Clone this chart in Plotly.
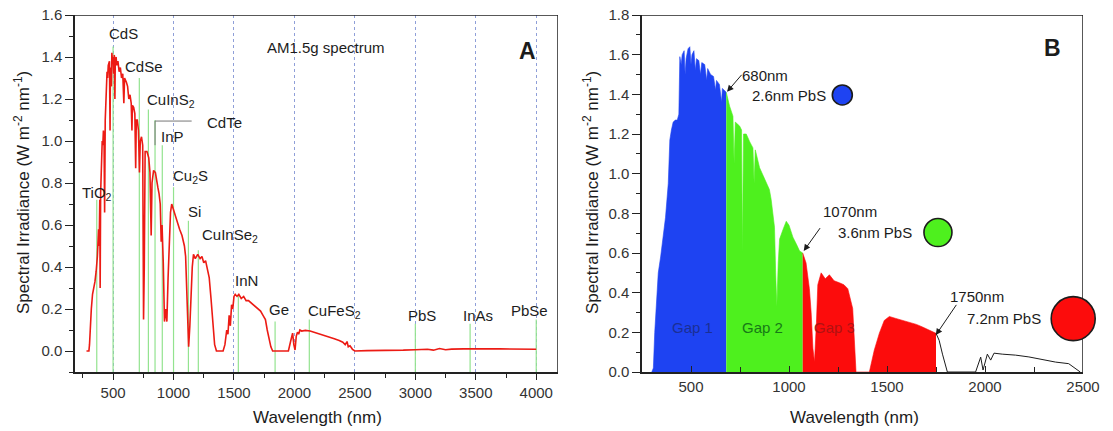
import plotly.graph_objects as go

# ---------------- Panel A : AM1.5g spectrum ----------------
wl_A = [280, 300, 305, 310, 320, 330, 340, 350, 360, 370, 380, 385, 390, 393, 397, 405, 410, 415,
        420, 425, 430, 435, 440, 445, 450, 455, 460, 470, 475, 478, 486, 490, 495, 500, 505, 510,
        515, 518, 525, 530, 540, 550, 560, 570, 580, 589, 595, 610, 620, 630, 640, 650, 656, 660,
        670, 680, 687, 692, 700, 710, 718, 725, 735, 745, 752, 758, 765, 780, 795, 805, 815, 822,
        835, 850, 860, 870, 880, 890, 898, 905, 915, 925, 935, 945, 955, 965, 975, 985, 995, 1010,
        1030, 1050, 1070, 1090, 1100, 1110, 1118, 1125, 1135, 1145, 1155, 1165, 1180, 1200, 1220,
        1235, 1250, 1265, 1280, 1295, 1310, 1325, 1340, 1355, 1410, 1425, 1440, 1450, 1460, 1470,
        1480, 1490, 1500, 1510, 1525, 1540, 1560, 1580, 1600, 1620, 1640, 1660, 1680, 1700, 1720,
        1740, 1760, 1775, 1790, 1805, 1820, 1950, 1970, 1985, 1995, 2005, 2015, 2025, 2035, 2045,
        2060, 2090, 2130, 2170, 2210, 2250, 2290, 2330, 2370, 2400, 2420, 2435, 2445, 2460, 2480,
        2500, 2600, 2700, 2800, 2900, 3000, 3100, 3150, 3200, 3250, 3300, 3400, 3500, 3600, 3700,
        3800, 3900, 4000]
irr_A = [0.0, 0.0, 0.03, 0.10, 0.20, 0.27, 0.30, 0.33, 0.38, 0.45, 0.58, 0.50, 0.72, 0.30, 0.75,
         0.95, 1.00, 0.98, 1.05, 1.02, 0.66, 1.10, 1.22, 1.28, 1.33, 1.30, 1.36, 1.38, 1.05, 1.35,
         1.26, 1.42, 1.38, 1.40, 1.32, 1.41, 1.20, 1.38, 1.40, 1.36, 1.38, 1.33, 1.35, 1.30, 1.32,
         1.18, 1.30, 1.28, 1.26, 1.20, 1.22, 1.18, 1.05, 1.17, 1.16, 1.13, 0.87, 1.10, 1.10, 1.05,
         0.85, 1.00, 1.02, 0.98, 0.15, 0.40, 0.95, 0.95, 0.92, 0.85, 0.55, 0.80, 0.86, 0.85, 0.80,
         0.78, 0.75, 0.70, 0.52, 0.60, 0.42, 0.14, 0.20, 0.14, 0.35, 0.55, 0.66, 0.70, 0.68, 0.65,
         0.61, 0.58, 0.55, 0.50, 0.45, 0.30, 0.10, 0.02, 0.12, 0.28, 0.40, 0.46, 0.44, 0.46, 0.44,
         0.45, 0.42, 0.43, 0.38, 0.35, 0.25, 0.12, 0.03, 0.0, 0.0, 0.03, 0.10, 0.08, 0.17, 0.12,
         0.22, 0.20, 0.26, 0.27, 0.26, 0.27, 0.25, 0.26, 0.24, 0.24, 0.23, 0.22, 0.21, 0.20, 0.19,
         0.17, 0.15, 0.10, 0.05, 0.02, 0.0, 0.0, 0.05, 0.085, 0.03, 0.005, 0.07, 0.09, 0.08, 0.10,
         0.095, 0.098, 0.095, 0.088, 0.082, 0.073, 0.066, 0.058, 0.050, 0.042, 0.030, 0.045, 0.02,
         0.025, 0.008, 0.0, 0.002, 0.002, 0.003, 0.004, 0.006, 0.008, 0.004, 0.012, 0.006, 0.009,
         0.010, 0.012, 0.011, 0.010, 0.010, 0.008, 0.008]

# band-gap markers (semiconductor, wavelength nm, line top)
semis = ["TiO<sub>2</sub>", "CdS", "CdSe", "CuInS<sub>2</sub>", "CdTe", "InP", "Cu<sub>2</sub>S",
         "Si", "CuInSe<sub>2</sub>", "InN", "Ge", "CuFeS<sub>2</sub>", "PbS", "InAs", "PbSe"]
gap_wl = [365, 500, 717, 792, 847, 907, 1000, 1123, 1205, 1536, 1840, 2123, 3000, 3453, 4000]
gap_top = [0.72, 1.45, 1.30, 1.15, 1.10, 0.98, 0.78, 0.62, 0.48, 0.27, 0.14, 0.15, 0.13, 0.13, 0.15]
# label centre positions (data units)
lab_x = [367, 582, 756, 975, 1418, 992, 1140, 1174, 1470, 1604, 1872, 2335, 3056, 3518, 3941]
lab_y = [0.752, 1.514, 1.357, 1.195, 1.086, 1.021, 0.83, 0.664, 0.552, 0.338, 0.198, 0.186, 0.171, 0.171, 0.195]

# ---------------- Panel B : coloured gaps ----------------
g1_wl = [300, 308, 315, 325, 333, 345, 358, 370, 384, 392, 400, 409, 420, 430, 438, 443, 450, 455,
         465, 470, 475, 485, 494, 500, 505, 515, 522, 528, 540, 548, 555, 570, 580, 585, 600, 615,
         625, 630, 645, 656, 660, 672, 680]
g1_val = [0.0, 0.02, 0.20, 0.40, 0.50, 0.58, 0.70, 0.78, 0.95, 1.17, 1.22, 1.26, 1.27, 1.27, 1.30,
          1.59, 1.55, 1.60, 1.62, 1.50, 1.58, 1.63, 1.64, 1.55, 1.60, 1.62, 1.52, 1.58, 1.57, 1.50,
          1.56, 1.55, 1.47, 1.53, 1.50, 1.49, 1.42, 1.47, 1.45, 1.36, 1.43, 1.42, 1.41]
g2_wl = [680, 697, 714, 720, 726, 748, 758, 762, 768, 782, 800, 816, 822, 828, 850, 884, 900,
         909, 926, 932, 938, 945, 952, 970, 986, 1000, 1020, 1040, 1054, 1070]
g2_val = [1.41, 1.34, 1.29, 1.05, 1.26, 1.24, 1.22, 0.60, 1.20, 1.20, 1.16, 1.13, 0.95, 1.12, 1.03,
          0.95, 0.92, 0.87, 0.73, 0.50, 0.33, 0.55, 0.67, 0.72, 0.76, 0.74, 0.68, 0.64, 0.61, 0.60]
g3_wl = [1070, 1087, 1104, 1113, 1122, 1130, 1140, 1147, 1164, 1185, 1206, 1230, 1257, 1280, 1300,
         1325, 1342, 1410, 1435, 1461, 1486, 1512, 1545, 1580, 1613, 1650, 1681, 1715, 1750]
g3_val = [0.60, 0.55, 0.42, 0.30, 0.12, 0.05, 0.25, 0.44, 0.50, 0.47, 0.49, 0.46, 0.45, 0.44, 0.42,
          0.32, 0.0, 0.0, 0.11, 0.196, 0.26, 0.28, 0.27, 0.26, 0.25, 0.24, 0.227, 0.21, 0.195]
tail_wl = [1750, 1766, 1783, 1808, 1952, 1978, 1990, 2012, 2029, 2046, 2088, 2156, 2224, 2292,
           2360, 2427, 2461, 2486]
tail_val = [0.195, 0.16, 0.09, 0.0, 0.0, 0.075, 0.01, 0.09, 0.06, 0.095, 0.09, 0.085, 0.076,
            0.062, 0.05, 0.042, 0.017, 0.0]

gap_names = ["Gap 1", "Gap 2", "Gap 3"]
gap_lab_x = [507, 866, 1232]
dot_labels = ["2.6nm PbS", "3.6nm PbS", "7.2nm PbS"]
edge_labels = ["680nm", "1070nm", "1750nm"]
dot_x = [1272, 1760, 2450]
dot_y = [1.397, 0.703, 0.269]
dot_px = [20, 28, 44]

# axis ranges
XR_A, YR_A = [185, 4180], [-0.1, 1.6]
XR_B, YR_B = [250, 2500], [0, 1.8]

W, H = 1113, 431
FONT = "Liberation Sans, Arial, sans-serif"
BLUE, GREEN, RED = "#1e43f2", "#4ef01e", "#fc0c0c"
INK = "#1c1c1c"
AX = "#222222"

def fx(p):
    return p / W

def fy(p):
    return 1 - p / H

fig = go.Figure()

# green band-gap lines (panel A)
lx, ly = [], []
for w, t in zip(gap_wl, gap_top):
    lx += [w, w, None]
    ly += [YR_A[0], t, None]
fig.add_trace(go.Scatter(x=lx, y=ly, mode="lines", line=dict(color="#93e38f", width=1.2),
                         hoverinfo="skip", xaxis="x", yaxis="y"))
# CdTe connector
fig.add_trace(go.Scatter(x=[847, 847, 1150], y=[0.98, 1.095, 1.095], mode="lines",
                         line=dict(color="#777777", width=1), hoverinfo="skip", xaxis="x", yaxis="y"))
fig.add_trace(go.Scatter(x=wl_A, y=irr_A, mode="lines", line=dict(color="#ec1b14", width=1.6),
                         xaxis="x", yaxis="y"))

# panel B fills
for wl, val, col in [(g1_wl, g1_val, BLUE), (g2_wl, g2_val, GREEN), (g3_wl, g3_val, RED)]:
    fig.add_trace(go.Scatter(x=wl, y=val, mode="lines", fill="tozeroy", fillcolor=col,
                             line=dict(color=col, width=0.6), xaxis="x2", yaxis="y2"))
fig.add_trace(go.Scatter(x=tail_wl, y=tail_val, mode="lines", line=dict(color=INK, width=1),
                         xaxis="x2", yaxis="y2"))

# plot frames (top and right borders at the axis range limits)
for xr, yr, xa, ya in [(XR_A, YR_A, "x", "y"), (XR_B, YR_B, "x2", "y2")]:
    fig.add_trace(go.Scatter(x=[xr[0], xr[1], xr[1]], y=[yr[1], yr[1], yr[0]], mode="lines",
                             cliponaxis=False, hoverinfo="skip",
                             line=dict(color=AX, width=1.5), xaxis=xa, yaxis=ya))

fig.add_trace(go.Scatter(x=dot_x, y=dot_y, mode="markers", cliponaxis=False, opacity=1,
                         marker=dict(size=dot_px, color=[BLUE, GREEN, RED], opacity=1,
                                     line=dict(color=INK, width=1.6)),
                         xaxis="x2", yaxis="y2"))

tickfont = dict(family=FONT, size=15, color="#333333")
line_kw = dict(showline=True, linecolor=AX, linewidth=1.5, zeroline=False, automargin=False)
domA = [fx(75), fx(558)]
domB = [fx(642), fx(1083)]
domY = [fy(372), fy(15)]

fig.update_layout(
    width=W, height=H, margin=dict(l=0, r=0, t=0, b=0, autoexpand=False), showlegend=False,
    paper_bgcolor="white", plot_bgcolor="white", font=dict(family=FONT, color=INK),
    xaxis=dict(domain=domA, range=XR_A, anchor="y", tickmode="linear", tick0=500, dtick=500,
               ticks="outside", ticklen=6, tickwidth=1.3, tickcolor=AX, tickfont=tickfont,
               showgrid=True, gridcolor="#8f9fd8", griddash="dot", gridwidth=1,
               minor=dict(tick0=250, dtick=250, ticks="outside", ticklen=4, tickcolor=AX, showgrid=False),
               **line_kw),
    yaxis=dict(domain=domY, range=YR_A, anchor="x", tickmode="linear", tick0=0, dtick=0.2,
               tickformat=".1f", ticks="outside", ticklen=8, tickwidth=1.3, tickcolor=AX,
               tickfont=tickfont, showgrid=False,
               minor=dict(dtick=0.1, ticks="outside", ticklen=4, tickcolor=AX, showgrid=False),
               **line_kw),
    xaxis2=dict(domain=domB, range=XR_B, anchor="y2", tickmode="linear", tick0=500, dtick=500,
                ticks="inside", ticklen=6, tickwidth=1.3, tickcolor=AX, tickfont=tickfont,
                showgrid=False,
                minor=dict(tick0=250, dtick=250, ticks="inside", ticklen=5, tickcolor=AX, showgrid=False),
                **line_kw),
    yaxis2=dict(domain=domY, range=YR_B, anchor="x2", tickmode="linear", tick0=0, dtick=0.2,
                tickformat=".1f", ticks="outside", ticklen=8, tickwidth=1.3, tickcolor=AX,
                tickfont=tickfont, showgrid=False,
                minor=dict(dtick=0.1, ticks="outside", ticklen=4, tickcolor=AX, showgrid=False),
                **line_kw),
)

ann = []
lab_font = dict(family=FONT, size=15, color=INK)
C = dict(xanchor="center", yanchor="middle", showarrow=False)
for t, x, y in zip(semis, lab_x, lab_y):
    ann.append(dict(text=t, x=x, y=y, xref="x", yref="y", font=lab_font, **C))
ann.append(dict(text="AM1.5g spectrum", x=2262, y=1.443, xref="x", yref="y", font=lab_font, **C))
ann.append(dict(text="<b>A</b>", x=3924, y=1.43, xref="x", yref="y",
                font=dict(family=FONT, size=23, color=INK), **C))
ann.append(dict(text="<b>B</b>", x=2346, y=1.636, xref="x2", yref="y2",
                font=dict(family=FONT, size=23, color=INK), **C))

# panel B gap labels
for t, x, c in zip(gap_names, gap_lab_x, ["#1b2f95", "#177a17", "#b01212"]):
    ann.append(dict(text=t, x=x, y=0.224, xref="x2", yref="y2",
                    font=dict(family=FONT, size=15, color=c), **C))
# edge + dot labels
edge_pos = [(876, 1.497), (1313, 0.809), (1959, 0.380)]
dot_lab_pos = [(998, 1.392), (1440, 0.703), (2098, 0.269)]
for t, (x, y) in zip(edge_labels, edge_pos):
    ann.append(dict(text=t, x=x, y=y, xref="x2", yref="y2", font=lab_font, **C))
for t, (x, y) in zip(dot_labels, dot_lab_pos):
    ann.append(dict(text=t, x=x, y=y, xref="x2", yref="y2", font=lab_font, **C))
# arrows
for (hx, hy), (tx, ty) in [((684, 1.413), (765, 1.506)), ((1075, 0.61), (1164, 0.733)),
                           ((1749, 0.186), (1859, 0.346))]:
    ann.append(dict(text="", x=hx, y=hy, ax=tx, ay=ty, xref="x2", yref="y2", axref="x2", ayref="y2",
                    showarrow=True, arrowhead=2, arrowsize=1.3, arrowwidth=1, arrowcolor=INK))

# axis titles
tfont = dict(family=FONT, size=17, color=INK)
ytitle = "Spectral Irradiance (W m<sup>-2</sup> nm<sup>-1</sup>)"
ann.append(dict(text=ytitle, x=fx(22), y=fy(193), xref="paper", yref="paper", textangle=-90,
                font=tfont, **C))
ann.append(dict(text=ytitle, x=fx(591), y=fy(193), xref="paper", yref="paper", textangle=-90,
                font=tfont, **C))
ann.append(dict(text="Wavelength (nm)", x=fx(317), y=fy(417), xref="paper", yref="paper",
                font=tfont, **C))
ann.append(dict(text="Wavelength (nm)", x=fx(854), y=fy(417), xref="paper", yref="paper",
                font=tfont, **C))
fig.update_layout(annotations=ann)

fig.write_html("out.html")
